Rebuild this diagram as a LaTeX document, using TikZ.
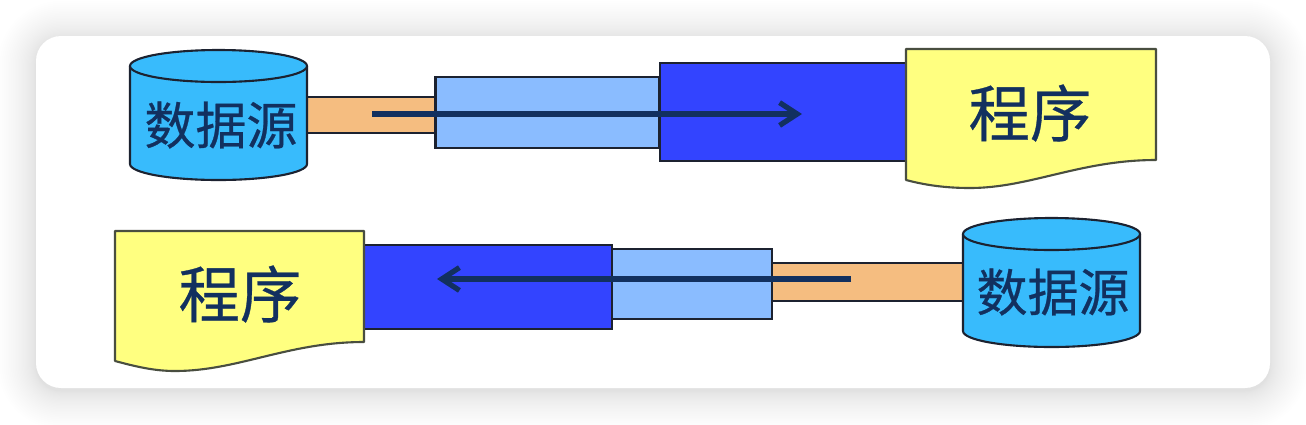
\documentclass[tikz,border=0pt]{standalone}
\usepackage{fontspec}
\setmainfont{Liberation Serif}
\newfontfamily\cjk[FakeBold=0.5]{Noto Sans CJK SC}
\usetikzlibrary{positioning,arrows.meta}
\definecolor{cylblue}{HTML}{38BBFC}
\definecolor{pipeorange}{HTML}{F5BD80}
\definecolor{lightblue}{HTML}{8ABCFF}
\definecolor{darkblue}{HTML}{3344FF}
\definecolor{paperyellow}{HTML}{FFFF80}
\definecolor{inkblue}{HTML}{12305F}
\definecolor{edgeblack}{HTML}{1C2230}
\begin{document}
\begin{tikzpicture}[x=0.02cm, y=-0.02cm]
\tikzset{BoxStyle/.style = {shape=rectangle, draw=edgeblack, line width=1.2pt, inner sep=0pt, outer sep=0pt}}
\tikzset{PipeStyle/.style = {BoxStyle, fill=pipeorange}}
\tikzset{MidStyle/.style = {BoxStyle, fill=lightblue}}
\tikzset{CoreStyle/.style = {BoxStyle, fill=darkblue}}
\tikzset{PaperStyle/.style = {draw=edgeblack!80!paperyellow, line width=1.2pt, fill=paperyellow, line join=round}}
\tikzset{SourceStyle/.style = {draw=edgeblack, line width=1.2pt, fill=cylblue}}
\tikzset{FlowStyle/.style = {draw=inkblue, line width=3pt, -{Straight Barb[length=10pt, width=13pt, line width=3pt]}}}
\tikzset{SourceText/.style = {text=inkblue, inner sep=0pt, font=\cjk\fontsize{29}{29}\selectfont}}
\tikzset{PaperText/.style = {text=inkblue, inner sep=0pt, font=\cjk\fontsize{35}{35}\selectfont}}
	\useasboundingbox (0,0) rectangle (1306,424);
	% card with its soft shadow
	\foreach \i in {1,...,30}{
		\pgfmathsetmacro{\d}{38*pow(\i/30,1.6)}
		\pgfmathsetmacro{\r}{(25+\d)*0.02}
		\fill[black, opacity=0.005, rounded corners=\r cm] (36-\d,39-\d) rectangle (1270+\d,391+\d);
	}
	\fill[white, rounded corners=0.5cm] (36,36) rectangle (1270,388);

	% upper row
	\node[PipeStyle, minimum width=2.56cm, minimum height=0.72cm] (pipeA) at (371,115) {};
	\node[MidStyle, minimum width=4.48cm, minimum height=1.42cm] (midA) at (547.5,112.5) {};
	\node[CoreStyle, minimum width=4.92cm, minimum height=1.96cm] (coreA) at (783,112) {};
	\draw[SourceStyle] (130,66) -- (130,164) .. controls (130,173) and (170,180) .. (218.5,180) .. controls (267,180) and (307,173) .. (307,164) -- (307,66);
	\draw[SourceStyle] (130,66) .. controls (130,57) and (170,50) .. (218.5,50) .. controls (267,50) and (307,57) .. (307,66) .. controls (307,75) and (267,82) .. (218.5,82) .. controls (170,82) and (130,75) .. (130,66) -- cycle;
	\node[SourceText] (sourceTextA) at (221,125) {数据源};
	\draw[PaperStyle] (906,49) -- (1156,49) -- (1156,160) .. controls (1080,160) and (1030,188) .. (970,188) .. controls (945,188) and (925,185) .. (906,180) -- cycle;
	\node[PaperText] (paperTextA) at (1030,113) {程序};
	\coordinate (flowStartA) at (372,114);
	\coordinate (flowEndA) at (802,114);
	\draw[FlowStyle] (flowStartA) -- (flowEndA);

	% lower row
	\node[PipeStyle, minimum width=3.82cm, minimum height=0.76cm] (pipeB) at (867.5,282) {};
	\node[MidStyle, minimum width=3.2cm, minimum height=1.4cm] (midB) at (692,284) {};
	\node[CoreStyle, minimum width=4.96cm, minimum height=1.68cm] (coreB) at (488,287) {};
	\draw[SourceStyle] (963,234) -- (963,331) .. controls (963,340) and (1003,347) .. (1051.5,347) .. controls (1100,347) and (1140,340) .. (1140,331) -- (1140,234);
	\draw[SourceStyle] (963,234) .. controls (963,225) and (1003,218) .. (1051.5,218) .. controls (1100,218) and (1140,225) .. (1140,234) .. controls (1140,243) and (1100,250) .. (1051.5,250) .. controls (1003,250) and (963,243) .. (963,234) -- cycle;
	\node[SourceText] (sourceTextB) at (1053,292) {数据源};
	\draw[PaperStyle] (115,231) -- (364,231) -- (364,342) .. controls (288,342) and (238,371) .. (175,371) .. controls (153,371) and (134,366) .. (115,361) -- cycle;
	\node[PaperText] (paperTextB) at (240,294) {程序};
	\coordinate (flowStartB) at (851,279);
	\coordinate (flowEndB) at (437,279);
	\draw[FlowStyle] (flowStartB) -- (flowEndB);
\end{tikzpicture}
\end{document}
